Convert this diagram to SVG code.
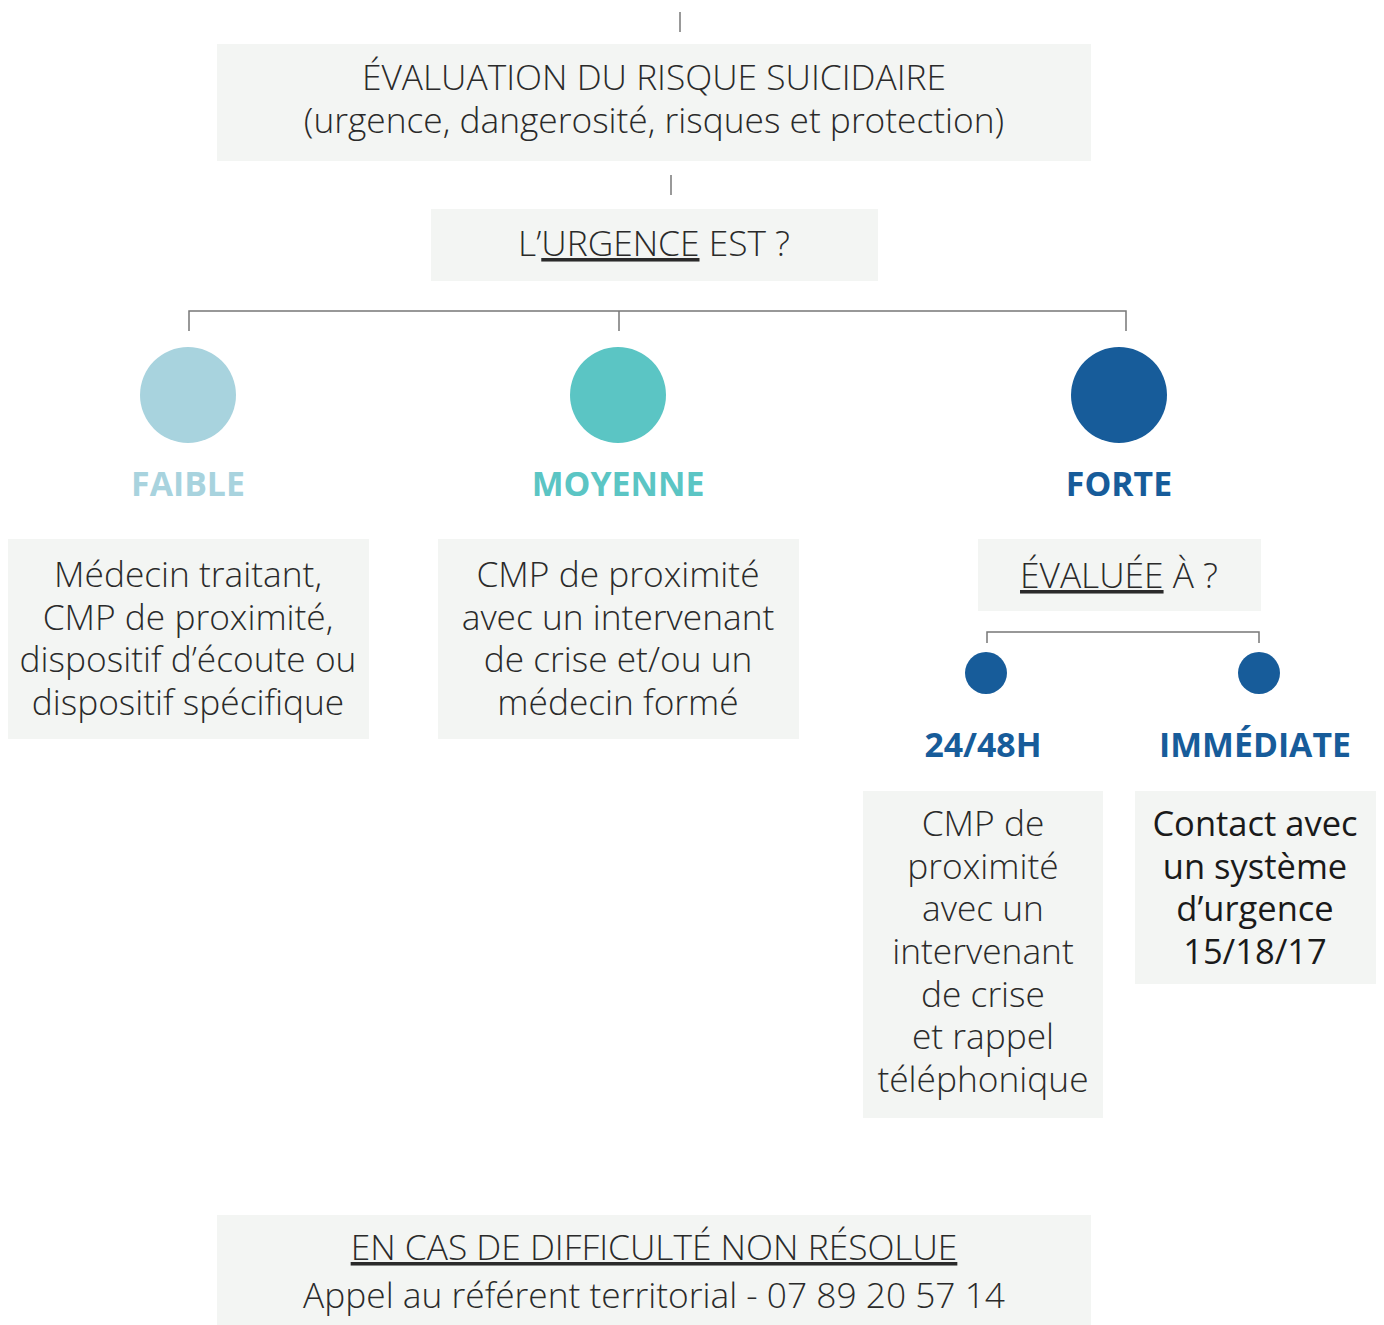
<svg xmlns="http://www.w3.org/2000/svg" width="1384" height="1325" viewBox="0 0 1384 1325">
<style>
.box{fill:#f3f5f3}
.t{font-family:"Open Sans","Liberation Sans",sans-serif;font-weight:300;font-size:35.3px;fill:#2a2a2a;text-anchor:middle}
.lb{font-family:"Open Sans","Liberation Sans",sans-serif;font-weight:700;font-size:33.8px;text-anchor:middle}
.ln{stroke:#777;stroke-width:1.5;fill:none}
.u{text-decoration:underline}
.dk{font-weight:400;font-size:34.5px;fill:#1a1a1a}
</style>
<rect width="1384" height="1325" fill="#fff"/>
<g id="connectors">
<line class="ln" x1="680" y1="12" x2="680" y2="32"/>
<line class="ln" x1="671" y1="175" x2="671" y2="195"/>
<path class="ln" d="M189 331V311H1126V331M619 311V331"/>
<path class="ln" d="M987 643V632H1259V643"/>
</g>
<g id="eval">
<rect class="box" x="217" y="44" width="874" height="117"/>
<text class="t" x="654" y="90">ÉVALUATION DU RISQUE SUICIDAIRE</text>
<text class="t" x="654" y="133">(urgence, dangerosité, risques et protection)</text>
</g>
<g id="urgence">
<rect class="box" x="431" y="209" width="447" height="72"/>
<text class="t" x="654" y="256">L’<tspan class="u">URGENCE</tspan> EST ?</text>
</g>
<g id="faible">
<circle cx="188" cy="395" r="48" fill="#a8d3de"/>
<text class="lb" x="188" y="496" fill="#a8d3de">FAIBLE</text>
</g>
<g id="moyenne">
<circle cx="618" cy="395" r="48" fill="#5bc5c4"/>
<text class="lb" x="618" y="496" fill="#5bc5c4">MOYENNE</text>
</g>
<g id="forte">
<circle cx="1119" cy="395" r="48" fill="#175c9a"/>
<text class="lb" x="1119" y="496" fill="#175c9a">FORTE</text>
</g>
<g id="faible-box">
<rect class="box" x="8" y="539" width="361" height="200"/>
<text class="t" x="188" y="587">Médecin traitant,</text>
<text class="t" x="188" y="630">CMP de proximité,</text>
<text class="t" x="188" y="672">dispositif d’écoute ou</text>
<text class="t" x="188" y="715">dispositif spécifique</text>
</g>
<g id="moyenne-box">
<rect class="box" x="438" y="539" width="361" height="200"/>
<text class="t" x="618" y="587">CMP de proximité</text>
<text class="t" x="618" y="630">avec un intervenant</text>
<text class="t" x="618" y="672">de crise et/ou un</text>
<text class="t" x="618" y="715">médecin formé</text>
</g>
<g id="evaluee">
<rect class="box" x="978" y="539" width="283" height="72"/>
<text class="t" x="1119" y="588"><tspan class="u">ÉVALUÉE</tspan> À ?</text>
</g>
<g id="h2448">
<circle cx="986" cy="673" r="21" fill="#175c9a"/>
<text class="lb" x="983" y="757" fill="#175c9a">24/48H</text>
</g>
<g id="immediate">
<circle cx="1259" cy="673" r="21" fill="#175c9a"/>
<text class="lb" x="1255" y="757" fill="#175c9a">IMMÉDIATE</text>
</g>
<g id="h2448-box">
<rect class="box" x="863" y="791" width="240" height="327"/>
<text class="t" x="983" y="836">CMP de</text>
<text class="t" x="983" y="879">proximité</text>
<text class="t" x="983" y="921">avec un</text>
<text class="t" x="983" y="964">intervenant</text>
<text class="t" x="983" y="1007">de crise</text>
<text class="t" x="983" y="1049">et rappel</text>
<text class="t" x="983" y="1092">téléphonique</text>
</g>
<g id="immediate-box">
<rect class="box" x="1135" y="791" width="241" height="193"/>
<text class="t dk" x="1255" y="836">Contact avec</text>
<text class="t dk" x="1255" y="879">un système</text>
<text class="t dk" x="1255" y="921">d’urgence</text>
<text class="t dk" x="1255" y="964">15/18/17</text>
</g>
<g id="difficulte">
<rect class="box" x="217" y="1215" width="874" height="110"/>
<text class="t" x="654" y="1260"><tspan class="u">EN CAS DE DIFFICULTÉ NON RÉSOLUE</tspan></text>
<text class="t" x="654" y="1308">Appel au référent territorial - 07 89 20 57 14</text>
</g>
</svg>
